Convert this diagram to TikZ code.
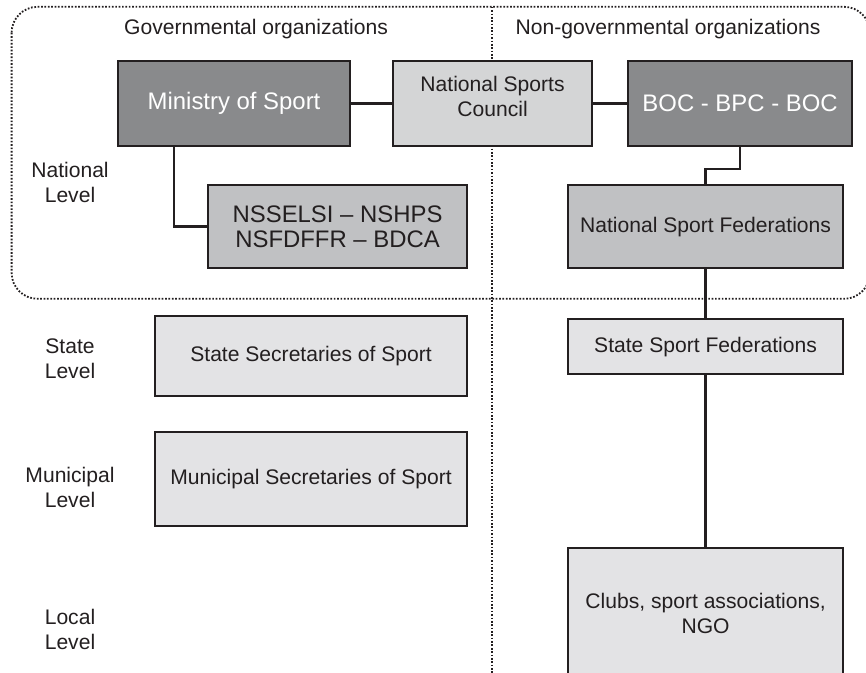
\documentclass[tikz,border=0pt]{standalone}
\usepackage{fontspec}
\setmainfont{Liberation Sans}
\begin{document}
\begin{tikzpicture}
\definecolor{ink}{RGB}{35,31,32}
\definecolor{dk}{RGB}{137,138,140}
\definecolor{md}{RGB}{192,193,195}
\definecolor{lt}{RGB}{212,213,214}
\definecolor{pl}{RGB}{227,227,229}
\tikzset{box/.style={draw=ink,line width=1.5pt,anchor=north west,align=center,
                     font=\fontsize{15}{17.8}\selectfont,text=ink},
         big/.style={box,font=\fontsize{17}{17.8}\selectfont},
         head/.style={big,fill=dk,text=white},
         link/.style={draw=ink,line width=1.7pt},
         sep/.style={ink,line width=1.3pt,dash pattern=on 1.2pt off 1.2pt},
         lvl/.style={align=center,font=\fontsize{15}{17.8}\selectfont,text=ink}}
\useasboundingbox (0,0) rectangle (21.65,-16.8);

% frame of the national level, and the line between the two sides
\draw[sep,rounded corners=0.65cm] (0.29,-0.17) rectangle (21.75,-7.47);
\draw[sep] (12.3,-0.17) -- (12.3,-16.9);

\node[lvl,anchor=base] (gov) at (6.4,-0.875) {Governmental organizations};
\node[lvl,anchor=base] (ngo) at (16.7,-0.875) {Non-governmental organizations};

% levels, top to bottom
\node[lvl] (natl) at (1.75,-4.55) {National\\Level};
\node[lvl] (stl) at (1.75,-8.975) {State\\Level};
\node[lvl] (munl) at (1.75,-12.175) {Municipal\\Level};
\node[lvl] (locl) at (1.75,-15.725) {Local\\Level};

% national bodies
\node[head,minimum width=5.8cm,minimum height=2.125cm] (ms) at (2.925,-1.5) {Ministry of Sport};
\node[box,fill=lt,minimum width=4.975cm,minimum height=2.125cm] (nsc) at (9.8,-1.5) {National Sports\\Council\\[-0.25cm]};
\node[head,minimum width=5.6cm,minimum height=2.125cm] (boc) at (15.675,-1.5) {BOC - BPC - BOC};
\node[big,fill=md,minimum width=6.475cm,minimum height=2.075cm] (nss) at (5.175,-4.6) {NSSELSI – NSHPS\\NSFDFFR – BDCA};
\node[box,fill=md,minimum width=6.875cm,minimum height=2.075cm] (nsf) at (14.175,-4.6) {National Sport Federations};

% state, municipal and local bodies
\node[box,fill=pl,minimum width=7.8cm,minimum height=2cm] (ssec) at (3.85,-7.875) {State Secretaries of Sport};
\node[box,fill=pl,minimum width=7.8cm,minimum height=2.35cm] (msec) at (3.85,-10.775) {Municipal Secretaries of Sport};
\node[box,fill=pl,minimum width=6.875cm,minimum height=1.375cm] (ssf) at (14.175,-7.95) {State Sport Federations};
\node[box,fill=pl,minimum width=6.875cm,minimum height=3.25cm] (club) at (14.175,-13.675) {Clubs, sport associations,\\NGO};

% links
\draw[link] (ms) -- (nsc);
\draw[link] (nsc) -- (boc);
\draw[link] ([xshift=1.425cm]ms.south west) |- (nss.west);
\draw[link] (boc.south) -- ++(0,-0.55) -| (nsf.north);
\draw[link] (nsf) -- (ssf);
\draw[link] (ssf) -- (club);
\end{tikzpicture}
\end{document}
